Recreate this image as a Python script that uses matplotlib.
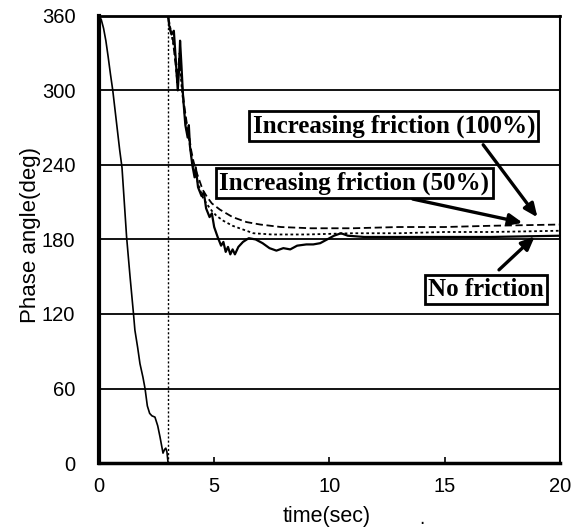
import numpy as np
import matplotlib
matplotlib.use("Agg")
import matplotlib.pyplot as plt

# swing-down part before the phase wraps (same for all three runs)
t_down = [0, 0.1, 0.2, 0.3, 0.4, 0.5, 0.6, 0.7, 0.8, 0.9, 1.0, 1.1, 1.2, 1.35, 1.5, 1.56,
          1.68, 1.78, 1.91, 2.0, 2.1, 2.2, 2.3, 2.43, 2.55, 2.65, 2.78, 2.85, 2.9, 2.95, 3.0]
y_down = [360, 357, 350, 340, 327, 313, 300, 284, 268, 252, 238, 210, 182, 150, 120, 107,
          93, 80, 69, 60, 46, 40, 38, 37, 30, 21, 8, 11, 12, 9, 0]
wrap_t = 3.0   # phase jumps 0 -> 360 here

# after the wrap
t_nofric = [3.0, 3.05, 3.15, 3.25, 3.35, 3.42, 3.48, 3.52, 3.58, 3.65, 3.75, 3.85, 3.9, 3.95,
            4.05, 4.15, 4.2, 4.3, 4.45, 4.55, 4.65, 4.8, 4.9, 5.0, 5.15, 5.3, 5.4, 5.5, 5.6,
            5.7, 5.8, 5.9, 6.05, 6.25, 6.5, 6.8, 7.1, 7.4, 7.7, 8.0, 8.3, 8.6, 9.0, 9.3, 9.6,
            9.9, 10.2, 10.5, 10.8, 11.5, 13, 15, 17, 20]
y_nofric = [360, 352, 345, 348, 320, 300, 318, 340, 320, 295, 272, 262, 272, 255,
            240, 230, 238, 222, 215, 218, 205, 198, 201, 190, 182, 175, 178, 170, 174,
            168, 172, 168, 174, 178, 181, 180, 177, 173, 171, 173, 172, 175, 176, 176, 177,
            180, 183, 185, 183, 182, 182, 182, 182, 183]

t_fric50 = [3.0, 3.1, 3.2, 3.3, 3.4, 3.5, 3.6, 3.7, 3.8, 3.9, 4.0, 4.1, 4.2, 4.35, 4.5, 4.7,
            4.9, 5.1, 5.4, 5.8, 6.25, 6.7, 7.5, 9, 11, 13, 15, 17, 20]
y_fric50 = [360, 350, 340, 330, 305, 325, 300, 285, 268, 262, 248, 238, 232, 222, 214, 208,
            203, 199, 195, 191, 188, 185, 184, 184, 185, 185, 186, 186, 187]

t_fric100 = [3.0, 3.1, 3.2, 3.3, 3.4, 3.5, 3.6, 3.7, 3.8, 3.9, 4.0, 4.1, 4.2, 4.35, 4.5, 4.7,
             4.9, 5.25, 5.8, 6.4, 7.0, 7.9, 9.2, 11, 13, 15, 17, 20]
y_fric100 = [360, 348, 342, 325, 310, 330, 305, 288, 275, 265, 252, 243, 236, 228, 220, 214,
             209, 204, 198, 194, 192, 190, 189, 189, 190, 190, 191, 192]

yticks = [0, 60, 120, 180, 240, 300, 360]
xticks = [0, 5, 10, 15, 20]

fig = plt.figure(figsize=(5.82, 5.28), dpi=100)
ax = fig.add_axes([0.170, 0.123, 0.792, 0.847])

# grid first so the curves sit on top
for g in yticks[1:-1]:
    ax.axhline(g, color="black", lw=1.3, zorder=1)

ax.plot(t_down, y_down, color="black", lw=1.2, zorder=3)
ax.plot([wrap_t, wrap_t], [yticks[0], yticks[-1]], color="black", lw=1.0, ls=(0, (1.5, 1.5)), zorder=3)
ax.plot(t_fric100, y_fric100, color="black", lw=1.3, ls=(0, (4, 2)), zorder=3)
ax.plot(t_fric50, y_fric50, color="black", lw=1.3, ls=(0, (1.5, 1.5)), zorder=3)
ax.plot(t_nofric, y_nofric, color="black", lw=1.6, zorder=4)

ax.set_xlim(0, 20)
ax.set_ylim(0, 360)
ax.set_xticks(xticks)
ax.set_yticks(yticks)
ax.tick_params(axis="x", direction="in", length=4, width=1.2, pad=10, labelsize=14.5)
ax.tick_params(axis="y", length=0, pad=17, labelsize=14.5)
for lab in ax.get_xticklabels() + ax.get_yticklabels():
    lab.set_family("Liberation Sans")

ax.spines["left"].set_linewidth(3)
ax.spines["bottom"].set_linewidth(2.5)
ax.spines["top"].set_linewidth(2)
ax.spines["right"].set_linewidth(1.5)

ax.set_ylabel("Phase angle(deg)", fontsize=16, family="Liberation Sans")
ax.yaxis.set_label_coords(-0.125, 0.51)
ax.set_xlabel("time(sec)", fontsize=15.5, family="Liberation Sans")
ax.xaxis.set_label_coords(0.495, -0.096)
ax.text(0.70, -0.125, ".", transform=ax.transAxes, fontsize=12, ha="center", va="center")

box = dict(boxstyle="square,pad=0.13", fc="white", ec="black", lw=2)
txt = dict(fontsize=18, family="Liberation Serif", weight="bold", ha="center", va="center",
           bbox=box, zorder=6)
ax.text(12.8, 271, "Increasing friction (100%)", **txt)
ax.text(11.08, 225.5, "Increasing friction (50%)", **txt)
ax.text(16.8, 139.7, "No friction", **txt)

arr = dict(arrowstyle="-|>,head_length=0.8,head_width=0.35", color="black", lw=2.4)
ax.annotate("", xy=(19.1, 196), xytext=(16.6, 258), arrowprops=arr, zorder=5)
ax.annotate("", xy=(18.5, 193), xytext=(13.5, 213), arrowprops=arr, zorder=5)
ax.annotate("", xy=(19.0, 184), xytext=(17.27, 154), arrowprops=arr, zorder=5)

fig.savefig("out.png", dpi=100)
